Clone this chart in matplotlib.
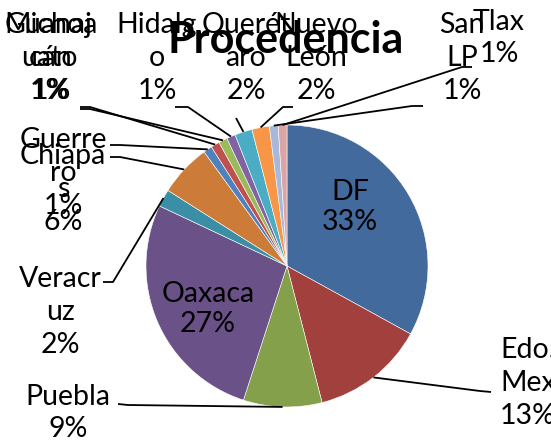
import numpy as np
import matplotlib.pyplot as plt

estados = ["DF", "Edo. Mex", "Puebla", "Oaxaca", "Veracruz", "Chiapas", "Guerrero",
           "Michoacán", "Guanajuato", "Hidalgo", "Querétaro", "Nuevo León", "San LP", "Tlax"]
porcentajes = [33, 13, 9, 27, 2, 6, 1, 1, 1, 1, 2, 2, 1, 1]
colores = ["#426a9c", "#a2403d", "#84a04a", "#6a5188", "#3a8ea6", "#cc7c38", "#4f81bd",
           "#c0504d", "#9bbb59", "#8064a2", "#4bacc6", "#f79646", "#a7b8da", "#d9a6a5"]

# centro del pie en pixeles y radio
CX, CY, R = 287, 266, 141
W, H = 551, 446

def px(x, y):
    return (x - CX) / R, (CY - y) / R

def partir(nombre, n=6):
    lineas = []
    for palabra in nombre.split(" "):
        lineas += [palabra[i:i + n] for i in range(0, len(palabra), n)]
    return "\n".join(lineas)

fig = plt.figure(figsize=(W / 100, H / 100), dpi=100)
ax = fig.add_axes([0, 0, 1, 1])
wedges, _ = ax.pie(porcentajes, colors=colores, startangle=90, counterclock=False,
                   radius=1, wedgeprops=dict(edgecolor="white", linewidth=0.4))
x0, y0 = px(0, 0)
x1, y1 = px(W, H)
ax.set_xlim(x0, x1)
ax.set_ylim(y1, y0)
ax.set_aspect("equal")
ax.axis("off")

fuente = "Lato"
fs = 20.5

# etiquetas dentro
dentro = {"DF": (350, 207), "Oaxaca": (208, 309)}
# etiquetas fuera: centro del texto, ancla de la linea, codo
fuera = {
    "Edo. Mex": ((528, 383), (491, 392), (480, 391)),
    "Puebla": ((68, 413), (118, 404), (128, 405)),
    "Veracruz": ((60, 312), (103, 282), (113, 282)),
    "Chiapas": ((63, 189), (110, 157), (120, 157)),
    "Guerrero": ((63, 173), (110, 145), (120, 145)),
    "Michoacán": ((51, 58), (80, 107), (90, 107)),
    "Guanajuato": ((49, 58), (80, 109), (90, 109)),
    "Hidalgo": ((157, 58), (175, 107), (188, 107)),
    "Querétaro": ((246, 58), (236, 118), (236, 118)),
    "Nuevo León": ((316, 58), (293, 107), (283, 107)),
    "San LP": ((462, 58), (423, 106), (412, 106)),
    "Tlax": ((499, 38), (472, 67), (462, 67)),
}

for w, nombre, p in zip(wedges, estados, porcentajes):
    ang = np.deg2rad((w.theta1 + w.theta2) / 2)
    ex, ey = np.cos(ang), np.sin(ang)
    if nombre in dentro:
        tx, ty = px(*dentro[nombre])
        ax.text(tx, ty, f"{nombre}\n{p}%", ha="center", va="center", fontsize=fs,
                family=fuente, linespacing=1.2)
        continue
    (cx_, cy_), ancla, codo = fuera[nombre]
    tx, ty = px(cx_, cy_)
    ax.text(tx, ty, f"{partir(nombre)}\n{p}%", ha="center", va="center", fontsize=fs,
            family=fuente, linespacing=1.32, clip_on=False)
    a = px(*ancla)
    c = px(*codo)
    ax.plot([a[0], c[0], ex], [a[1], c[1], ey], color="black", lw=1.3,
            solid_capstyle="butt")

tx, ty = px(286, 40)
ax.text(tx, ty, "Procedencia", ha="center", va="center", fontsize=31,
        fontweight="bold", family=fuente)

fig.savefig("out.png", dpi=100)
